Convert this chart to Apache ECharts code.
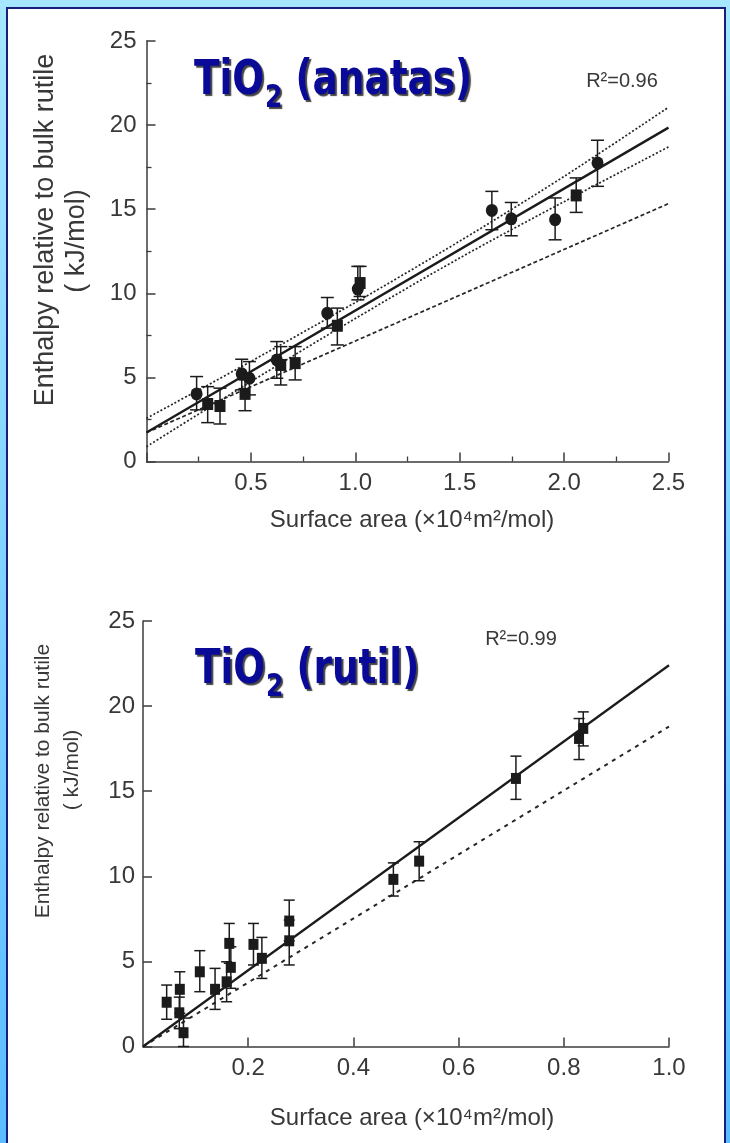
<!DOCTYPE html>
<html>
<head>
<meta charset="utf-8">
<script src="https://cdn.jsdelivr.net/npm/echarts@6/dist/echarts.min.js"></script>
<style>
  html, body { margin: 0; padding: 0; width: 730px; height: 1143px; overflow: hidden; }
  body { position: relative; background: linear-gradient(180deg, #a6e6ff 0%, #84d4ff 45%, #5bbcff 100%); }
  #panel { position: absolute; left: 6px; top: 7px; width: 716px; height: 1200px; background: #fff; border: 2px solid #16207c; }
  #chart { position: absolute; left: 0; top: 0; width: 730px; height: 1143px; }
</style>
</head>
<body>
<div id="panel"></div>
<div id="chart"></div>
<script>
// ---- TiO2 anatase: measured enthalpies with error bars ----
const anatasX    = [0.24, 0.293, 0.352, 0.456, 0.472, 0.493, 0.624, 0.643, 0.712, 0.866, 0.914, 1.012, 1.023, 1.654, 1.747, 1.957, 2.058, 2.16];
const anatasY    = [4.02, 3.42, 3.30, 5.21, 4.02, 4.95, 6.04, 5.74, 5.85, 8.82, 8.07, 10.25, 10.61, 14.93, 14.43, 14.38, 15.82, 17.75];
const anatasHigh = [5.05, 4.45, 4.36, 6.08, 4.85, 5.94, 7.13, 6.83, 6.83, 9.75, 9.12, 11.6, 11.6, 16.06, 15.4, 15.67, 16.86, 19.1];
const anatasLow  = [3.07, 2.31, 2.23, 4.26, 3.02, 3.96, 4.95, 4.55, 4.85, 7.93, 6.93, 9.61, 9.81, 13.78, 13.42, 13.18, 14.81, 16.36];
const anatasShape = ['circle', 'rect', 'rect', 'circle', 'rect', 'circle', 'circle', 'rect', 'rect',
                     'circle', 'rect', 'circle', 'rect', 'circle', 'circle', 'circle', 'rect', 'circle'];

// linear fit, its confidence band and the rutile reference line
const anatasLineX  = [0, 2.5];
const anatasFit    = [1.72, 19.85];
const anatasRef    = [1.72, 15.33];
const anatasBandX  = [0, 0.5, 1.0, 1.5, 2.0, 2.5];
const anatasUpper  = [2.57, 5.95, 9.45, 13.1, 16.95, 21.06];
const anatasLower  = [0.88, 4.75, 8.5, 12.1, 15.45, 18.7];

// ---- TiO2 rutile ----
const rutilX    = [0.045, 0.070, 0.069, 0.077, 0.108, 0.137, 0.159, 0.164, 0.167, 0.210, 0.226, 0.278, 0.278, 0.476, 0.525, 0.709, 0.829, 0.837];
const rutilY    = [2.60, 3.36, 1.98, 0.81, 4.39, 3.36, 3.80, 6.06, 4.65, 6.00, 5.18, 7.37, 6.21, 9.82, 10.89, 15.75, 18.10, 18.69];
const rutilHigh = [3.61, 4.39, 2.90, 1.67, 5.63, 4.59, 4.98, 7.23, 5.86, 7.23, 6.41, 8.60, 7.43, 10.79, 12.03, 17.06, 19.27, 19.66];
const rutilLow  = [1.60, 1.95, 1.05, 0.00, 3.22, 2.18, 2.63, 4.89, 3.42, 4.79, 4.00, 6.21, 4.79, 8.84, 9.74, 14.52, 16.86, 17.66];
const rutilLineX = [0, 1.0];
const rutilFit   = [0, 22.4];
const rutilRef   = [0, 18.8];

// axis ticks
const anatasXTicks = { min: 0, max: 2.5, step: 0.5 };
const rutilXTicks  = { min: 0, max: 1.0, step: 0.2 };
const yTicks       = { min: 0, max: 25, step: 5 };

// titles: formula, subscript, phase name
const anatasTitle = ['TiO', '2', ' (anatas)'];
const rutilTitle  = ['TiO', '2', ' (rutil)'];
const yTitle = 'Enthalpy relative to bulk rutile';
const yUnit  = '( kJ/mol)';
const xTitle = 'Surface area (×10⁴m²/mol)';

// ---------------------------------------------------------------
const INK = '#1b1b1b';
const AXIS = '#3c3c3c';
const LABEL_FONT = "'Liberation Sans', Arial, sans-serif";
const TITLE_FAMILY = "'DejaVu Sans', Verdana, sans-serif";
const TITLE_SIZE = 48, SUB_SIZE = 32, TITLE_SQUEEZE = 0.78;

const zip = (xs, ys) => xs.map((x, i) => [x, ys[i]]);

const measureCtx = document.createElement('canvas').getContext('2d');
function textWidth(text, size) {
  measureCtx.font = 'bold ' + size + 'px ' + TITLE_FAMILY;
  return measureCtx.measureText(text).width;
}

function errorBar(halfCap) {
  return function (params, api) {
    const x = api.value(0);
    const lo = api.coord([x, api.value(1)]);
    const hi = api.coord([x, api.value(2)]);
    const style = { stroke: INK, lineWidth: 1.5, fill: null };
    return {
      type: 'group',
      children: [
        { type: 'line', shape: { x1: hi[0], y1: hi[1], x2: lo[0], y2: lo[1] }, style },
        { type: 'line', shape: { x1: hi[0] - halfCap, y1: hi[1], x2: hi[0] + halfCap, y2: hi[1] }, style },
        { type: 'line', shape: { x1: lo[0] - halfCap, y1: lo[1], x2: lo[0] + halfCap, y2: lo[1] }, style }
      ]
    };
  };
}

function valueAxis(grid, ticks, opts) {
  return Object.assign({
    type: 'value', gridIndex: grid,
    min: ticks.min, max: ticks.max, interval: ticks.step,
    axisLine: { show: true, onZero: false, lineStyle: { color: AXIS, width: 1.5 } },
    axisTick: { show: true, inside: true, length: 9, lineStyle: { color: AXIS, width: 1.5 } },
    splitLine: { show: false },
    axisLabel: { color: '#383838', fontSize: 24, fontFamily: LABEL_FONT }
  }, opts);
}

const minor = { show: true, splitNumber: 2, length: 5, lineStyle: { color: AXIS, width: 1.3 } };

function axisText(x, y, text, size, rotate) {
  return {
    type: 'text', x, y, rotation: rotate ? Math.PI / 2 : 0, silent: true,
    style: {
      text, fill: '#383838', fontSize: size, fontFamily: LABEL_FONT,
      align: 'center', verticalAlign: 'middle', textAlign: 'center', textVerticalAlign: 'middle'
    }
  };
}

// panel title: formula with a real subscript, dark blue with a drop shadow
function titleGroup(x, baseline, parts) {
  const shadow = { textShadowColor: 'rgba(20,20,20,0.8)', textShadowOffsetX: 2, textShadowOffsetY: 2, textShadowBlur: 1 };
  const piece = (px, py, text, size) => ({
    type: 'text', x: px, y: py, silent: true,
    style: Object.assign({
      text, fill: '#0a0a99', fontSize: size, fontWeight: 'bold', fontFamily: TITLE_FAMILY,
      align: 'left', verticalAlign: 'middle', textAlign: 'left', textVerticalAlign: 'middle'
    }, shadow)
  });
  const w0 = textWidth(parts[0], TITLE_SIZE);
  const w1 = textWidth(parts[1], SUB_SIZE);
  const mid = -0.346 * TITLE_SIZE;          // em-box middle above the baseline
  const subMid = 12 - 0.346 * SUB_SIZE;     // subscript sits 12px lower
  return {
    type: 'group', x, y: baseline, scaleX: TITLE_SQUEEZE,
    children: [
      piece(0, mid, parts[0], TITLE_SIZE),
      piece(w0 + 1, subMid, parts[1], SUB_SIZE),
      piece(w0 + 1 + w1, mid, parts[2], TITLE_SIZE)
    ]
  };
}

const chart = echarts.init(document.getElementById('chart'), null, { renderer: 'canvas' });

const option = {
  animation: false,
  grid: [
    { left: 146.5, top: 41, width: 522, height: 420.5 },
    { left: 143, top: 621, width: 526, height: 425.5 }
  ],
  xAxis: [
    valueAxis(0, anatasXTicks, {
      minorTick: minor,
      axisLabel: { color: '#383838', fontSize: 24, fontFamily: LABEL_FONT, margin: 10, showMinLabel: false,
                   formatter: v => v.toFixed(1) }
    }),
    valueAxis(1, rutilXTicks, {
      axisLabel: { color: '#383838', fontSize: 24, fontFamily: LABEL_FONT, margin: 10, showMinLabel: false,
                   formatter: v => v.toFixed(1) }
    })
  ],
  yAxis: [
    valueAxis(0, yTicks, {
      minorTick: minor,
      axisLabel: { color: '#383838', fontSize: 24, fontFamily: LABEL_FONT, margin: 10 }
    }),
    valueAxis(1, yTicks, {
      axisLabel: { color: '#383838', fontSize: 24, fontFamily: LABEL_FONT, margin: 8 }
    })
  ],
  graphic: [
    titleGroup(194, 98, anatasTitle),
    titleGroup(195, 687, rutilTitle),
    axisText(622, 81, 'R²=0.96', 20, false),
    axisText(521, 639, 'R²=0.99', 20, false),
    axisText(412, 520, xTitle, 24, false),
    axisText(412, 1118, xTitle, 24, false),
    axisText(46, 230, yTitle, 27, true),
    axisText(77, 241, yUnit, 27, true),
    axisText(43, 781, yTitle, 21, true),
    axisText(72, 770, yUnit, 21, true)
  ],
  series: [
    // ---- anatase panel ----
    { type: 'line', xAxisIndex: 0, yAxisIndex: 0, data: zip(anatasBandX, anatasUpper), symbol: 'none', smooth: 0.3,
      lineStyle: { color: '#262626', width: 1.7, type: [2, 2] }, z: 2 },
    { type: 'line', xAxisIndex: 0, yAxisIndex: 0, data: zip(anatasBandX, anatasLower), symbol: 'none', smooth: 0.3,
      lineStyle: { color: '#262626', width: 1.7, type: [2, 2] }, z: 2 },
    { type: 'line', xAxisIndex: 0, yAxisIndex: 0, data: zip(anatasLineX, anatasRef), symbol: 'none',
      lineStyle: { color: '#262626', width: 1.7, type: [4, 2.5] }, z: 2 },
    { type: 'line', xAxisIndex: 0, yAxisIndex: 0, data: zip(anatasLineX, anatasFit), symbol: 'none',
      lineStyle: { color: INK, width: 2.4 }, z: 3 },
    { type: 'custom', xAxisIndex: 0, yAxisIndex: 0, renderItem: errorBar(6.5),
      data: anatasX.map((x, i) => [x, anatasLow[i], anatasHigh[i]]), encode: { x: 0, y: [1, 2] }, z: 4 },
    { type: 'scatter', xAxisIndex: 0, yAxisIndex: 0,
      data: anatasX.map((x, i) => [x, anatasY[i], anatasShape[i]]),
      symbol: v => v[2], symbolSize: v => v[2] === 'circle' ? [12, 13] : [11, 12],
      itemStyle: { color: INK, opacity: 1 }, z: 5 },

    // ---- rutile panel ----
    { type: 'line', xAxisIndex: 1, yAxisIndex: 1, data: zip(rutilLineX, rutilRef), symbol: 'none',
      lineStyle: { color: '#262626', width: 2, type: [4, 5] }, z: 2 },
    { type: 'line', xAxisIndex: 1, yAxisIndex: 1, data: zip(rutilLineX, rutilFit), symbol: 'none',
      lineStyle: { color: INK, width: 2.2 }, z: 3 },
    { type: 'custom', xAxisIndex: 1, yAxisIndex: 1, renderItem: errorBar(5.5),
      data: rutilX.map((x, i) => [x, rutilLow[i], rutilHigh[i]]), encode: { x: 0, y: [1, 2] }, z: 4 },
    { type: 'scatter', xAxisIndex: 1, yAxisIndex: 1,
      data: zip(rutilX, rutilY), symbol: 'rect', symbolSize: [10, 11],
      itemStyle: { color: INK, opacity: 1 }, z: 5 }
  ]
};

chart.setOption(option);
</script>
</body>
</html>
